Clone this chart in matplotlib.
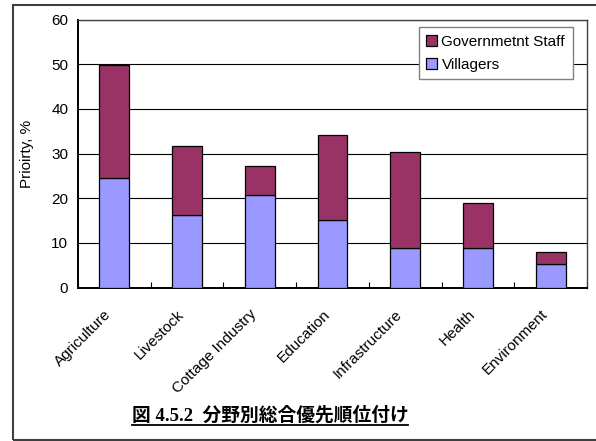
import matplotlib
matplotlib.use("Agg")
import matplotlib.pyplot as plt
from matplotlib.patches import Rectangle
from matplotlib.lines import Line2D
from matplotlib.transforms import ScaledTranslation
import numpy as np

plt.rcParams['font.family'] = ['Liberation Sans', 'DejaVu Sans']

# Priority shares (%) by sector
sectors = ['Agriculture', 'Livestock', 'Cottage Industry', 'Education',
           'Infrastructure', 'Health', 'Environment']
villagers = [24.5, 16.3, 20.6, 15.1, 8.9, 8.9, 5.3]
gov_staff = [25.3, 15.3, 6.6, 19.1, 21.5, 10.1, 2.6]
yticks = [0, 10, 20, 30, 40, 50, 60]
title = '図 4.5.2  分野別総合優先順位付け'

fig = plt.figure(figsize=(5.96, 4.41), dpi=100)

# outer frame around the whole figure
fig.patches.append(Rectangle((13 / 596, 1 - 440 / 441), 1.0, 435 / 441,
                             transform=fig.transFigure, fill=False,
                             edgecolor='#404040', linewidth=1.5))

ax = fig.add_axes([78 / 596, 1 - 287.5 / 441, 509 / 596, 268 / 441])
x = np.arange(len(sectors))
w = 0.41
ax.bar(x, villagers, w, color='#9999FF', edgecolor='black', linewidth=0.9,
       label='Villagers', zorder=3)
ax.bar(x, gov_staff, w, bottom=villagers, color='#993366', edgecolor='black',
       linewidth=0.9, label='Governmetnt Staff', zorder=3)

ax.set_xlim(-0.5, len(sectors) - 0.5)
ax.set_ylim(0, 60)
ax.set_yticks(yticks)
ax.tick_params(axis='y', length=0, labelsize=11, pad=7)
ax.yaxis.grid(True, color='black', linewidth=0.8)
ax.set_axisbelow(True)

ax.set_xticks(x)
ax.set_xticklabels(sectors, rotation=45, ha='right', va='top',
                   rotation_mode='anchor', fontsize=11)
ax.tick_params(axis='x', which='major', length=0, pad=14)
shift = ScaledTranslation(-10 / 100, 0, fig.dpi_scale_trans)
for lbl in ax.get_xticklabels():
    lbl.set_transform(lbl.get_transform() + shift)
ax.set_xticks(np.arange(-0.5, len(sectors)), minor=True)
ax.tick_params(axis='x', which='minor', direction='in', length=4, width=0.8)

for side in ['left', 'bottom']:
    ax.spines[side].set_linewidth(1.4)
for side in ['top', 'right']:
    ax.spines[side].set_color('#404040')
    ax.spines[side].set_linewidth(1.0)

ax.set_ylabel('Prioirty, %', fontsize=11, labelpad=12.5)

handles, labels = ax.get_legend_handles_labels()
leg = ax.legend(handles[::-1], labels[::-1], loc='upper right',
                bbox_to_anchor=(0.972, 0.972), borderaxespad=0,
                fancybox=False, edgecolor='#808080', framealpha=1,
                fontsize=11, handlelength=0.7, handleheight=0.7,
                handletextpad=0.3, borderpad=0.5, labelspacing=0.6)
leg.get_frame().set_linewidth(1.0)

t = fig.text(270 / 596, 1 - 415 / 441, title, ha='center', va='center',
             fontsize=13.5, fontweight='bold',
             family=['Liberation Serif', 'Noto Sans CJK JP'])

# underline the caption
fig.canvas.draw()
bb = t.get_window_extent().transformed(fig.transFigure.inverted())
fig.lines.append(Line2D([bb.x0, bb.x1], [bb.y0 - 0.002, bb.y0 - 0.002],
                        transform=fig.transFigure, color='black',
                        linewidth=1.3))

fig.savefig('out.png', dpi=100)
